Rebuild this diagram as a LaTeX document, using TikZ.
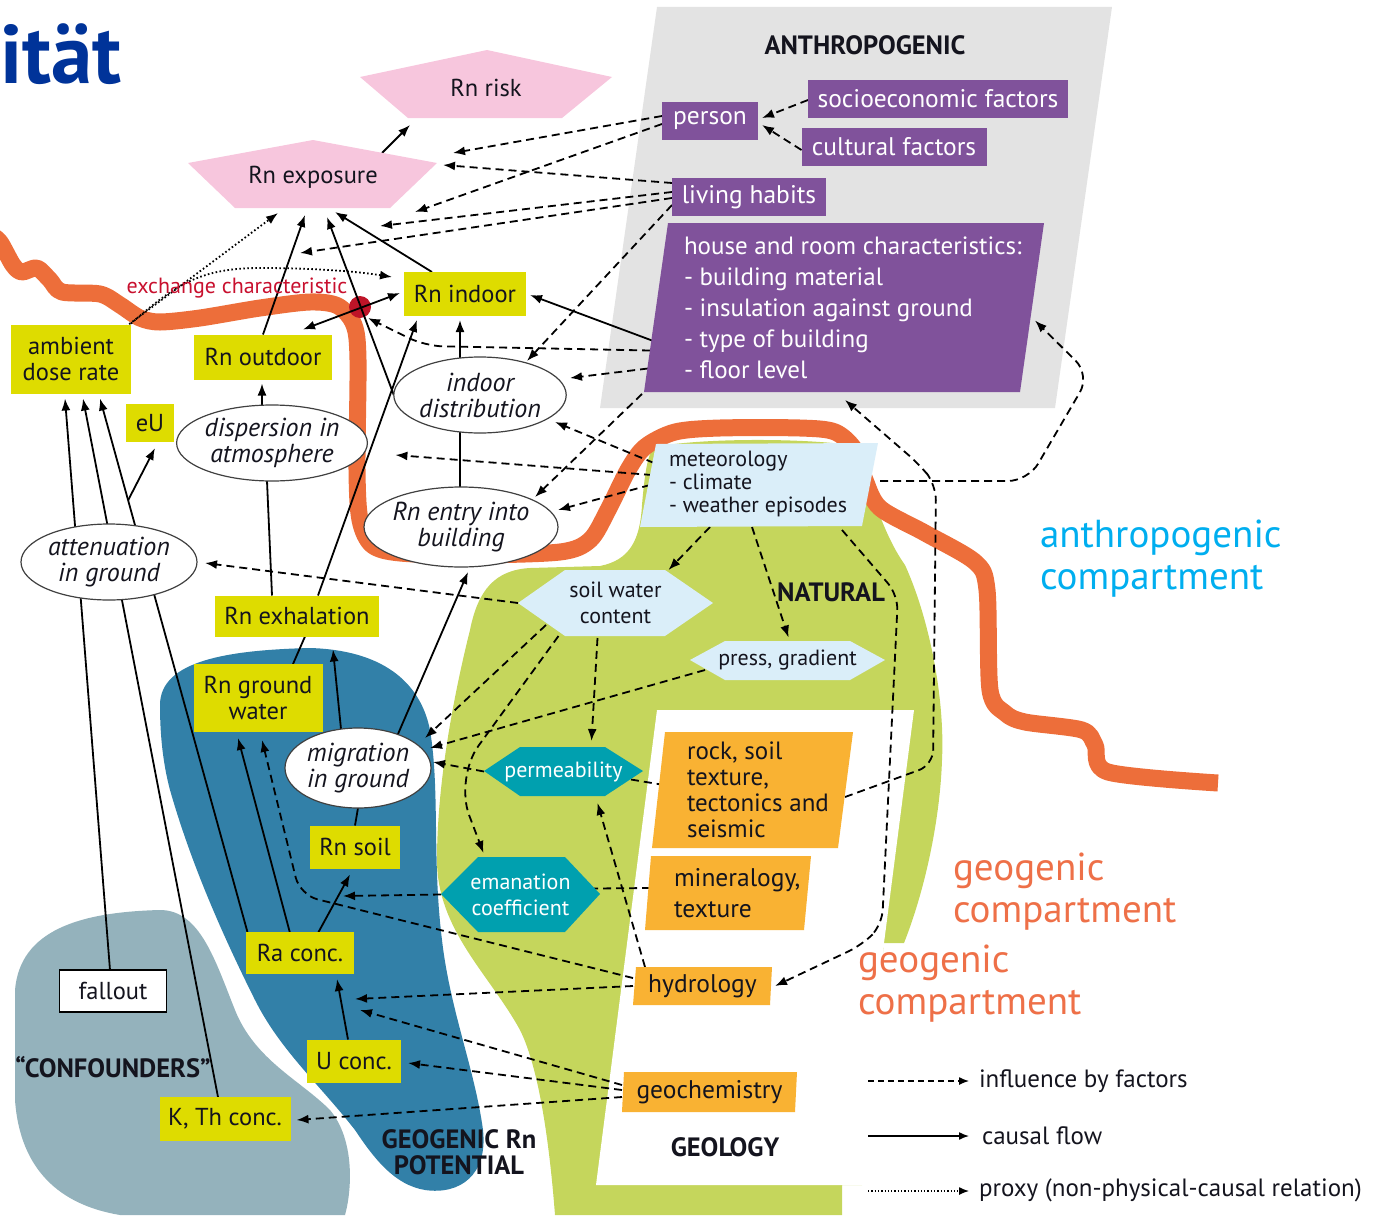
\documentclass[tikz,border=0pt]{standalone}
\usepackage{fontspec}
\setmainfont{PT Sans}
\usetikzlibrary{shapes.geometric,arrows.meta,calc}
\pgfdeclarelayer{bg}
\pgfdeclarelayer{lines}
\pgfsetlayers{bg,lines,main}
\definecolor{yel}{RGB}{222,220,0}
\definecolor{purp}{RGB}{128,82,155}
\definecolor{orng}{RGB}{249,178,51}
\definecolor{teal2}{RGB}{0,160,175}
\definecolor{lblue}{RGB}{218,238,249}
\definecolor{pink2}{RGB}{247,198,221}
\definecolor{green2}{RGB}{197,214,92}
\definecolor{blue2}{RGB}{50,128,168}
\definecolor{grey2}{RGB}{148,178,188}
\definecolor{lgrey}{RGB}{227,227,227}
\definecolor{orline}{RGB}{237,110,58}
\definecolor{redt}{RGB}{200,16,46}
\definecolor{reddot}{RGB}{190,20,40}
\definecolor{cyan2}{RGB}{0,174,239}
\definecolor{geoor}{RGB}{238,112,72}
\definecolor{titleblue}{RGB}{0,51,153}
\definecolor{txt}{RGB}{20,20,30}
\newcommand\fnM{\fontsize{24.5}{26}\selectfont}
\newcommand\fnP{\fontsize{25.5}{27}\selectfont}
\newcommand\fnI{\fontsize{26}{26}\selectfont\itshape}
\newcommand\fnH{\fontsize{25}{31}\selectfont}
\newcommand\fnS{\fontsize{22}{23}\selectfont}
\newcommand\fnHex{\fontsize{22}{26}\selectfont}
\newcommand\fnR{\fontsize{25}{26}\selectfont}
\newcommand\fnMin{\fontsize{25.5}{31}\selectfont}
\newcommand\fnO{\fontsize{25.5}{27}\selectfont}
\newcommand\fnB{\fontsize{26.5}{26}\selectfont\bfseries}
\newcommand\fnX{\fontsize{22}{24}\selectfont}
\newcommand\fnC{\fontsize{39}{42}\selectfont}
\newcommand\fnT{\fontsize{83}{90}\selectfont\bfseries}
\newcommand\fnL{\fontsize{25}{27}\selectfont}
\begin{document}
\begin{tikzpicture}[x=1pt,y=-1pt,
  base/.style={inner sep=0pt,outer sep=0pt,align=center,text=txt},
  bb/.style={inner sep=0pt,outer sep=0pt,rectangle,align=center,text=txt},
  ybox/.style={base,rectangle,fill=yel,font=\fnM},
  pbox/.style={base,rectangle,fill=purp,text=white,font=\fnP},
  ell/.style={base,ellipse,draw=black!75,line width=1.2pt,fill=white,font=\fnI},
  arrowtip/.style={-{Latex[length=12pt,width=9pt]}},
  caus/.style={draw=black,line width=1.8pt,arrowtip},
  dbl/.style={draw=black,line width=1.8pt,{Latex[length=12pt,width=9pt]}-{Latex[length=12pt,width=9pt]}},
  infl/.style={draw=black,line width=1.8pt,dash pattern=on 8pt off 5pt,arrowtip},
  infldash/.style={draw=black,line width=1.8pt,dash pattern=on 8pt off 5pt},
  prox/.style={draw=black,line width=1.8pt,dash pattern=on 1.6pt off 2.4pt,arrowtip},
  solidline/.style={draw=black,line width=1.8pt},
  legtip/.style={-{Latex[length=10pt,width=8pt]}},
]
\useasboundingbox (0,0) rectangle (1378,1215);

% ---------------- backgrounds ----------------
\begin{pgfonlayer}{bg}
\fill[lgrey] (657,7) -- (1112,7) -- (1055,408) -- (600,408) -- cycle;
% natural / geology green
\fill[green2] (655,447)
  .. controls (700,438) and (800,438) .. (850,445)
  .. controls (870,480) and (880,530) .. (905,565)
  .. controls (930,620) and (945,700) .. (942,760)
  .. controls (940,820) and (925,890) .. (904,943)
  -- (884,943) -- (862,1185) -- (842,1185) -- (842,1215) -- (555,1215)
  .. controls (550,1150) and (540,1070) .. (520,1030)
  .. controls (490,975) and (437,930) .. (437,860)
  .. controls (437,780) and (455,690) .. (470,630)
  .. controls (478,590) and (495,570) .. (530,568)
  -- (600,566)
  .. controls (630,560) and (640,540) .. (642,505)
  .. controls (645,470) and (648,452) .. (655,447) -- cycle;
\fill[white] (657,710) -- (914,710) -- (884,943) -- (870,1185) -- (596,1185) -- cycle;
% geogenic Rn potential
\fill[blue2] (160,705) .. controls (160,660) and (230,650) .. (310,648)
  .. controls (380,650) and (420,680) .. (430,730)
  .. controls (440,790) and (432,860) .. (442,940)
  .. controls (450,1010) and (475,1070) .. (483,1130)
  .. controls (488,1175) and (460,1195) .. (425,1190)
  .. controls (395,1185) and (375,1160) .. (355,1130)
  .. controls (320,1085) and (280,1050) .. (255,1000)
  .. controls (220,930) and (190,860) .. (170,790)
  .. controls (162,760) and (160,730) .. (160,705) -- cycle;
% confounders
\fill[grey2] (15,990) .. controls (20,930) and (80,912) .. (160,910)
  .. controls (200,910) and (215,960) .. (235,1010)
  .. controls (255,1060) and (300,1080) .. (330,1110)
  .. controls (355,1140) and (352,1190) .. (345,1215)
  -- (120,1215) .. controls (60,1205) and (20,1170) .. (15,1100) -- cycle;
% compartment border
\draw[orline,line width=17pt,line join=round] plot[smooth,tension=0.5] coordinates {
  (-10,234) (0,242) (13,265) (22,272) (37,268) (50,280) (62,292) (100,294)
  (120,305) (140,318) (160,322) (200,318) (260,308) (310,302) (338,306)
  (354,325) (358,360) (357,470) (360,520) (372,545) (400,553) (470,555)
  (560,552) (590,540) (608,510) (628,470) (645,447) (675,432) (720,428)
  (800,428) (835,432) (855,450) (865,480) (880,508) (925,533) (975,562)
  (987,590) (990,690) (1005,713) (1025,722) (1082,730) (1095,745)
  (1108,772) (1218,783)};
\end{pgfonlayer}

% ---------------- nodes ----------------
\node[base,font=\fnT,text=titleblue,anchor=base west] (title) at (0,83) {ität};

\fill[pink2] (487,50) -- (612,77) -- (562,118) -- (408,118) -- (360,77) -- cycle;
\node[bb,minimum width=252pt,minimum height=68pt] (risk) at (486,84) {};
\node[base,font=\fnM] (risktxt) at (486,88) {Rn risk};
\fill[pink2] (313,140) -- (437,163) -- (390,208) -- (235,208) -- (188,163) -- cycle;
\node[bb,minimum width=250pt,minimum height=68pt] (expo) at (313,174) {};
\node[base,font=\fnM] (expotxt) at (313,177) {Rn exposure};

\node[base,font=\fnB] (anthro) at (865,45) {ANTHROPOGENIC};
\node[pbox,minimum width=96pt,minimum height=38pt] (person) at (710,121) {person};
\node[pbox,minimum width=260pt,minimum height=38pt] (socio) at (938,99) {socioeconomic factors};
\node[pbox,minimum width=185pt,minimum height=38pt] (cultural) at (894,147) {cultural factors};
\node[pbox,minimum width=154pt,minimum height=38pt] (living) at (749,197) {living habits};
\fill[purp] (668,223) -- (1044,223) -- (1020,392) -- (644,392) -- cycle;
\node[bb,minimum width=400pt,minimum height=169pt] (house) at (844,307.5) {};
\node[base,anchor=west,align=left,text=white,font=\fnH] (housetxt) at (684,308)
  {house and room characteristics:\\- building material\\- insulation against ground\\- type of building\\- floor level};

\node[ybox,minimum width=122pt,minimum height=44pt] (rnindoor) at (465,294) {Rn indoor};
\node[ybox,minimum width=138pt,minimum height=45pt] (rnoutdoor) at (263,357) {Rn outdoor};
\node[ybox,minimum width=120pt,minimum height=69pt] (ambient) at (71,359) {ambient\\dose rate};
\node[ybox,minimum width=48pt,minimum height=38pt] (eU) at (150,423) {eU};
\node[ybox,minimum width=164pt,minimum height=41pt] (rnexh) at (297,616) {Rn exhalation};
\node[ybox,minimum width=129pt,minimum height=68pt] (rngw) at (258,698) {Rn ground\\water};
\node[ybox,minimum width=90pt,minimum height=43pt] (rnsoil) at (355,847) {Rn soil};
\node[ybox,minimum width=108pt,minimum height=42pt] (raconc) at (300,953) {Ra conc.};
\node[ybox,minimum width=94pt,minimum height=43pt] (uconc) at (354,1061) {U conc.};
\node[ybox,minimum width=131pt,minimum height=44pt] (kth) at (225,1119) {K, Th conc.};
\node[base,rectangle,draw=black,line width=1.5pt,fill=white,font=\fnM,minimum width=107pt,minimum height=42pt] (fallout) at (113,991) {fallout};

\node[ell,minimum width=170pt,minimum height=76pt] (inddist) at (480,395) {indoor\\distribution};
\node[ell,minimum width=190pt,minimum height=76pt] (disp) at (272,443) {dispersion in\\atmosphere};
\node[ell,minimum width=194pt,minimum height=80pt] (entry) at (461,527) {Rn entry into\\building};
\node[ell,minimum width=176pt,minimum height=76pt] (atten) at (109,562) {attenuation\\in ground};
\node[ell,minimum width=146pt,minimum height=80pt] (migr) at (358,768) {migration\\in ground};

\node[base,font=\fnX,text=redt] (exch) at (237,288) {exchange characteristic};

\fill[lblue] (656,444) -- (878,443) -- (862,526) -- (640,527) -- cycle;
\node[bb,minimum width=238pt,minimum height=84pt] (meteo) at (759,485) {};
\node[base,anchor=west,align=left,font=\fnS] (meteotxt) at (669,484) {meteorology\\- climate\\- weather episodes};

\fill[lblue] (518,603) -- (565,570) -- (665,570) -- (713,603) -- (665,636) -- (565,636) -- cycle;
\node[bb,font=\fnHex,minimum width=195pt,minimum height=66pt] (soil) at (615.5,603) {soil water\\content};
\fill[lblue] (690,660) -- (725,641) -- (850,641) -- (885,660) -- (850,680) -- (725,680) -- cycle;
\node[bb,font=\fnHex,minimum width=195pt,minimum height=39pt] (press) at (787.5,660) {press, gradient};
\node[base,font=\fnB] (natural) at (831,592) {NATURAL};

\fill[teal2] (484,771) -- (520,747) -- (605,747) -- (643,771) -- (605,796) -- (520,796) -- cycle;
\node[bb,font=\fnHex,text=white,minimum width=159pt,minimum height=49pt] (perm) at (563.5,771.5) {permeability};
\fill[teal2] (441,894) -- (478,857) -- (565,857) -- (600,894) -- (565,932) -- (478,932) -- cycle;
\node[bb,font=\fnHex,text=white,minimum width=159pt,minimum height=75pt] (eman) at (520.5,894.5) {emanation\\coefficient};

\fill[orng] (665,732) -- (853,732) -- (838,848) -- (652,848) -- cycle;
\node[bb,minimum width=201pt,minimum height=116pt] (rock) at (752.5,790) {};
\node[base,anchor=west,align=left,font=\fnR] (rocktxt) at (687,790) {rock, soil\\texture,\\tectonics and\\seismic};
\fill[orng] (651,856) -- (811,856) -- (804,930) -- (645,930) -- cycle;
\node[bb,minimum width=166pt,minimum height=74pt] (mineral) at (728,893) {};
\node[base,anchor=west,align=left,font=\fnMin] (mineraltxt) at (674,893) {mineralogy,\\texture};
\fill[orng] (636,967) -- (772,967) -- (770,1005) -- (633,1005) -- cycle;
\node[bb,font=\fnO,minimum width=139pt,minimum height=38pt] (hydro) at (702.5,986) {hydrology};
\fill[orng] (624,1072) -- (797,1072) -- (795,1112) -- (622,1112) -- cycle;
\node[bb,font=\fnO,minimum width=175pt,minimum height=40pt] (geochem) at (709.5,1092) {geochemistry};
\node[base,font=\fnB] (geology) at (725,1147) {GEOLOGY};

\node[base,font=\fnB] (geopot) at (459,1152) {GEOGENIC Rn\\POTENTIAL};
\node[base,font=\fnB] (confound) at (113,1067) {“CONFOUNDERS”};

\node[base,font=\fnC,text=cyan2,align=left,anchor=west] (anthcomp) at (1040,559) {anthropogenic\\compartment};
\node[base,font=\fnC,text=geoor,align=left,anchor=west] (geocompA) at (953,892) {geogenic\\compartment};
\node[base,font=\fnC,text=geoor,align=left,anchor=west] (geocompB) at (858,984) {geogenic\\compartment};

% legend
\node[base,font=\fnL,anchor=west] (leg1) at (979,1081) {influence by factors};
\node[base,font=\fnL,anchor=west] (leg2) at (982,1136) {causal flow};
\node[base,font=\fnL,anchor=west] (leg3) at (979,1190) {proxy (non-physical-causal relation)};
\coordinate (la1) at (868,1081);
\coordinate (la2) at (868,1136);
\coordinate (la3) at (868,1191);

% ---------------- connectors ----------------
\begin{pgfonlayer}{lines}
\node[circle,fill=reddot,minimum size=22pt,inner sep=0pt] (dot) at (360,307) {};

% causal flow
\draw[caus] ($(expo.north)+(69,13)$) -- ($(risk.south west)+(50,7)$);
\draw[caus] (rnoutdoor.north) -- ($(expo.south)+(-8,7)$);
\draw[caus] ($(rnindoor.north west)+(28,0)$) -- ($(expo.south)+(22,4)$);
\draw[caus] (inddist.west) -- ($(expo.south)+(14,9)$);
\draw[dbl] ($(rnoutdoor.north)+(40,-5)$) -- ($(rnindoor.west)+(-4,-1)$);
\draw[caus] ($(inddist.north)+(-20,2)$) -- ($(rnindoor.south)+(-5,4)$);
\draw[solidline] ($(entry.north)+(-1,0)$) -- ($(inddist.south)+(-20,-2)$);
\draw[caus] ($(disp.north)+(-10,0)$) -- ($(rnoutdoor.south)+(-1,4)$);
\draw[solidline] ($(rnexh.north)+(-25,0)$) -- ($(disp.south)+(-5,0)$);
\draw[solidline] ($(rngw.north)+(35,0)$) -- ($(rnexh.south)+(8,0)$);
\draw[caus] ($(migr.north)+(-17,1)$) -- ($(rnexh.south)+(36,13)$);
\draw[caus] ($(rnexh.north)+(21,0)$) -- ($(rnindoor.south west)+(13,4)$);
\draw[caus] ($(migr.center)+(40,-34)$) -- ($(entry.south)+(7,5)$);
\draw[solidline] (rnsoil.north) -- (migr.south);
\draw[caus] ($(raconc.north)+(18,1)$) -- ($(rnsoil.south)+(-5,6)$);
\draw[caus] ($(uconc.north)+(-6,0)$) -- ($(raconc.south)+(37,5)$);
\draw[caus] ($(raconc.north)+(-10,1)$) -- ($(rngw.south)+(-20,6)$);
\coordinate (c18a) at ($(raconc.north west)+(2,2)$);
\coordinate (c18b) at ($(ambient.south)+(29,5)$);
\coordinate (br) at ($(c18a)!0.81!(c18b)$);
\draw[caus] (c18a) -- (c18b);
\draw[caus] ($(kth.north)+(-7,0)$) -- ($(ambient.south)+(12,5)$);
\draw[caus] ($(fallout.north)+(-3,0)$) -- ($(ambient.south)+(-6,5)$);
\draw[caus] (br) -- ($(eU.south)+(5,6)$);
\draw[caus] ($(house.west)+(8,33)$) -- ($(rnindoor.east)+(4,1)$);

% influence by factors
\draw[infl] ($(person.west)+(0,-5)$) -- ($(expo.east)+(15,-21)$);
\draw[infl] ($(person.west)+(0,3)$) -- ($(expo.south)+(102,4)$);
\draw[infl] ($(living.west)+(0,-14)$) -- ($(expo.east)+(5,-9)$);
\draw[infl] ($(living.west)+(0,-5)$) -- ($(expo.south)+(67,18)$);
\draw[infl] ($(living.west)+(0,1)$) -- ($(expo.south)+(-13,45)$);
\draw[infl] ($(living.west)+(0,8)$) -- ($(inddist.center)+(47,-34)$);
\draw[infl] ($(socio.west)+(0,1)$) -- ($(person.east)+(4,-3)$);
\draw[infl] ($(cultural.west)+(0,3)$) -- ($(person.east)+(4,4)$);
\draw[infl,rounded corners=18pt] ($(house.west)+(6,43)$) -- (425,346) -- ($(dot.center)+(8,11)$);
\draw[infl] ($(house.west)+(4,61)$) -- ($(inddist.center)+(90,-17)$);
\draw[infl] ($(house.south west)+(-2,2)$) -- ($(entry.center)+(74,-30)$);
\draw[infl] ($(meteo.west)+(14,-22)$) -- ($(inddist.center)+(75,27)$);
\draw[infl] ($(meteo.west)+(12,-10)$) -- ($(disp.east)+(28,12)$);
\draw[infl] ($(meteo.west)+(10,0)$) -- ($(entry.center)+(97,-17)$);
\draw[infl,rounded corners=20pt] ($(meteo.east)+(2,-4)$) -- (1028,481) -- (1090,375) -- ($(house.east)+(-9,13)$);
\draw[infl,rounded corners=15pt] ($(rock.east)+(-8,7)$) -- (933,765) -- (936,485) -- (920,465) -- ($(house.south)+(1,8)$);
\draw[infl,rounded corners=15pt] ($(meteo.south east)+(-36,3)$) -- (898,595) -- (882,925) -- (862,945) -- ($(hydro.east)+(3,0)$);
\draw[infl] ($(meteo.south)+(-49,0)$) -- ($(soil.north)+(53,0)$);
\draw[infl] ($(meteo.south)+(-7,0)$) -- ($(press.north)+(1,-3)$);
\draw[infl] (soil.west) -- ($(atten.east)+(8,1)$);
\draw[infl] ($(soil.west)+(28,22)$) -- ($(migr.center)+(67,-30)$);
\draw[infl] ($(soil.south)+(-18,2)$) -- ($(perm.north)+(28,-6)$);
\draw[infl,rounded corners=40pt] ($(soil.south)+(-57,0)$) -- (455,778) -- ($(eman.north)+(-37,-4)$);
\draw[infl] ($(press.west)+(15,10)$) -- ($(migr.center)+(72,-20)$);
\draw[infl] (perm.west) -- ($(migr.east)+(2,-6)$);
\draw[infldash] ($(perm.east)+(-12,8)$) -- ($(rock.west)+(12,-5)$);
\draw[infldash] ($(mineral.west)+(5,-5)$) -- ($(eman.east)+(-6,-6)$);
\draw[infl] ($(hydro.north west)+(12,0)$) -- ($(perm.south)+(34,7)$);
\coordinate (t29) at (343,896);
\draw[infl] (eman.west) -- (t29);
\draw[infl,rounded corners=18pt] ($(hydro.west)+(0,-8)$) -- (300,895) -- ($(rngw.south)+(4,8)$);
\coordinate (t31) at (355,999);
\draw[infl] (hydro.west) -- (t31);
\coordinate (t32) at (360,1010);
\draw[infl] ($(geochem.west)+(0,-7)$) -- (t32);
\draw[infl] ($(geochem.west)+(0,-2)$) -- ($(uconc.east)+(7,2)$);
\draw[infl] ($(geochem.west)+(0,5)$) -- ($(kth.east)+(6,1)$);

% proxy
\draw[prox] ($(ambient.north east)+(-5,2)$) -- ($(expo.south)+(-35,5)$);
\draw[prox] ($(ambient.north east)+(0,-1)$) .. controls (175,285) and (200,268) .. (260,268)
  .. controls (320,268) and (360,272) .. ($(rnindoor.west)+(-12,-17)$);

% legend
\draw[draw=black,line width=1.3pt,dash pattern=on 6pt off 4pt,legtip] (la1) -- ($(leg1.west)+(-10,0)$);
\draw[draw=black,line width=1.5pt,legtip] (la2) -- ($(leg2.west)+(-13,0)$);
\draw[draw=black,line width=1.3pt,dash pattern=on 1.3pt off 2pt,legtip] (la3) -- ($(leg3.west)+(-10,1)$);
\end{pgfonlayer}
\end{tikzpicture}
\end{document}
